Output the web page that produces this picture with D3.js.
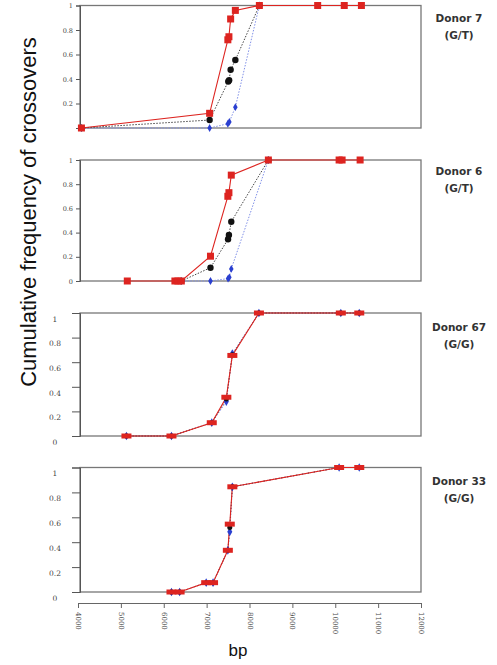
<!DOCTYPE html>
<html>
<head>
<meta charset="utf-8">
<script src="https://cdn.jsdelivr.net/npm/d3@7"></script>
<style>
  body { margin: 0; background: #fff; }
  .tick text { font-family: "DejaVu Serif", serif; fill: #444; }
  .donor { font-family: "DejaVu Sans", sans-serif; font-weight: bold; font-size: 10.5px; fill: #333; }
</style>
</head>
<body>
<div id="chart"></div>
<script>

// Data: [bp, cumulative frequency]
var donor7Red   = [[4080,0],[7070,0.12],[7495,0.72],[7520,0.745],[7560,0.89],[7670,0.96],[8230,1],[9590,1],[10210,1],[10610,1]];
var donor7Black = [[4080,0],[7070,0.065],[7505,0.38],[7525,0.39],[7560,0.475],[7670,0.555],[8230,1]];
var donor7Blue  = [[4080,0],[7070,0],[7495,0.035],[7530,0.05],[7670,0.17],[8230,1]];

var donor6Red   = [[5150,0],[6260,0],[6330,0],[6410,0],[7090,0.205],[7495,0.70],[7520,0.73],[7575,0.875],[8440,1],[10090,1],[10160,1],[10580,1]];
var donor6Black = [[6410,0],[7090,0.11],[7500,0.345],[7520,0.38],[7575,0.49],[8440,1]];
var donor6Blue  = [[6410,0],[7090,0],[7500,0.02],[7530,0.03],[7575,0.1],[8440,1]];

var donor67Red   = [[5130,0],[6180,0],[7120,0.108],[7460,0.315],[7600,0.655],[8220,1],[10130,1],[10560,1]];
var donor67Black = [[5130,0],[6180,0],[7120,0.108],[7460,0.30],[7600,0.66],[8220,1],[10130,1],[10560,1]];
var donor67Blue  = [[5130,0],[6180,0],[7120,0.108],[7460,0.28],[7600,0.67],[8220,1],[10130,1],[10560,1]];

var donor33Red   = [[6180,0],[6370,0],[6990,0.075],[7150,0.075],[7495,0.335],[7540,0.545],[7600,0.845],[10090,1],[10560,1]];
var donor33Black = [[6180,0],[6370,0],[6990,0.075],[7150,0.075],[7495,0.335],[7540,0.518],[7600,0.845],[10090,1],[10560,1]];
var donor33Blue  = [[6180,0],[6370,0],[6990,0.075],[7150,0.075],[7495,0.335],[7540,0.483],[7600,0.845],[10090,1],[10560,1]];

var donorNames = ["Donor 7", "Donor 6", "Donor 67", "Donor 33"];
var genotypes = ["(G/T)", "(G/T)", "(G/G)", "(G/G)"];
var yTicks = [0, 0.2, 0.4, 0.6, 0.8, 1];
var xTicks = [4000, 5000, 6000, 7000, 8000, 9000, 10000, 11000, 12000];

var panels = [
  {red: donor7Red,  black: donor7Black,  blue: donor7Blue,  top: 5.5, bottom: 128, labelDy: 16.5, big: false, zeroLabel: false},
  {red: donor6Red,  black: donor6Black,  blue: donor6Blue,  top: 160, bottom: 281, labelDy: 15,   big: false, zeroLabel: true},
  {red: donor67Red, black: donor67Black, blue: donor67Blue, top: 313, bottom: 436, labelDy: 18,   big: true,  zeroLabel: true},
  {red: donor33Red, black: donor33Black, blue: donor33Blue, top: 467.5, bottom: 592, labelDy: 17, big: true,  zeroLabel: true}
];

var width = 497, height = 665;
var left = 80, right = 421;

var svg = d3.select("#chart").append("svg")
    .attr("width", width)
    .attr("height", height);

var x = d3.scaleLinear().domain([4000, 12000]).range([78, 421]);

var redC = "#dd2420", blueC = "#2a3fd0";

panels.forEach(function(p, i) {
    var y = d3.scaleLinear().domain([0, 1]).range([p.bottom, p.top]);
    var g = svg.append("g");

    // box
    g.append("rect")
        .attr("x", left).attr("y", p.top)
        .attr("width", right - left).attr("height", p.bottom - p.top)
        .attr("fill", "none").attr("stroke", "#777").attr("stroke-width", 1.3);

    // y axis
    var yAxis = d3.axisLeft(y)
        .tickValues(yTicks)
        .tickSize(p.big ? 8 : 4)
        .tickPadding(p.big ? 4 : 3)
        .tickFormat(function(d) {
            if (d === 0 && !p.zeroLabel) return "";
            return d === 1 ? "1" : d === 0 ? "0" : d3.format(".1f")(d);
        });
    var ya = g.append("g")
        .attr("transform", "translate(" + left + ",0)")
        .call(yAxis);
    ya.select(".domain").attr("stroke", "#555");
    ya.selectAll(".tick line").attr("stroke", "#555");
    ya.selectAll(".tick text")
        .style("font-size", p.big ? "7.5px" : "6.5px");
    if (p.big) {
        ya.selectAll(".tick text")
            .attr("text-anchor", "middle")
            .attr("x", -25)
            .attr("y", 6);
    }

    var line = d3.line()
        .x(function(d) { return x(d[0]); })
        .y(function(d) { return y(d[1]); });

    // lines
    g.append("path").datum(p.blue)
        .attr("d", line).attr("fill", "none")
        .attr("stroke", "#8090e8").attr("stroke-width", 1)
        .attr("stroke-dasharray", "1.5,1.5");
    g.append("path").datum(p.black)
        .attr("d", line).attr("fill", "none")
        .attr("stroke", "#444").attr("stroke-width", 1)
        .attr("stroke-dasharray", "1.5,1.5");
    g.append("path").datum(p.red)
        .attr("d", line).attr("fill", "none")
        .attr("stroke", redC).attr("stroke-width", 1.1);

    // markers
    g.selectAll(".blue-pt").data(p.blue).enter()
        .append("path")
        .attr("class", "blue-pt")
        .attr("d", d3.symbol().type(d3.symbolDiamond).size(p.big ? 22 : 18))
        .attr("transform", function(d) { return "translate(" + x(d[0]) + "," + y(d[1]) + ")"; })
        .attr("fill", blueC);
    g.selectAll(".black-pt").data(p.black).enter()
        .append("circle")
        .attr("class", "black-pt")
        .attr("cx", function(d) { return x(d[0]); })
        .attr("cy", function(d) { return y(d[1]); })
        .attr("r", p.big ? 2.5 : 3.2)
        .attr("fill", "#111");
    var rw = p.big ? 10 : 7, rh = p.big ? 5 : 7;
    g.selectAll(".red-pt").data(p.red).enter()
        .append("rect")
        .attr("class", "red-pt")
        .attr("x", function(d) { return x(d[0]) - rw / 2; })
        .attr("y", function(d) { return y(d[1]) - rh / 2; })
        .attr("width", rw).attr("height", rh)
        .attr("fill", redC);

    // donor label
    g.append("text").attr("class", "donor")
        .attr("x", 459).attr("y", p.top + p.labelDy)
        .attr("text-anchor", "middle").text(donorNames[i]);
    g.append("text").attr("class", "donor")
        .attr("x", 459).attr("y", p.top + p.labelDy + 17)
        .attr("text-anchor", "middle").text(genotypes[i]);
});

// bottom axis
var xAxis = d3.axisBottom(x)
    .tickValues(xTicks)
    .tickSize(5)
    .tickPadding(4)
    .tickFormat(d3.format("d"));
var xa = svg.append("g")
    .attr("transform", "translate(0,603)")
    .call(xAxis);
xa.select(".domain").attr("stroke", "#666");
xa.selectAll(".tick line").attr("stroke", "#666");
xa.selectAll(".tick text")
    .style("font-size", "7px")
    .attr("text-anchor", "start")
    .attr("dy", "0.35em")
    .attr("x", 0).attr("y", 0)
    .attr("transform", "translate(0,9) rotate(90)");

// axis titles
svg.append("text")
    .attr("transform", "translate(36,212) rotate(-90)")
    .attr("text-anchor", "middle")
    .style("font-family", "'Liberation Sans', Arial, sans-serif")
    .style("font-size", "22px")
    .attr("fill", "#111")
    .text("Cumulative frequency of crossovers");

svg.append("text")
    .attr("x", 238).attr("y", 656)
    .attr("text-anchor", "middle")
    .style("font-family", "'Liberation Sans', Arial, sans-serif")
    .style("font-size", "17px")
    .attr("fill", "#111")
    .text("bp");

</script>
</body>
</html>
